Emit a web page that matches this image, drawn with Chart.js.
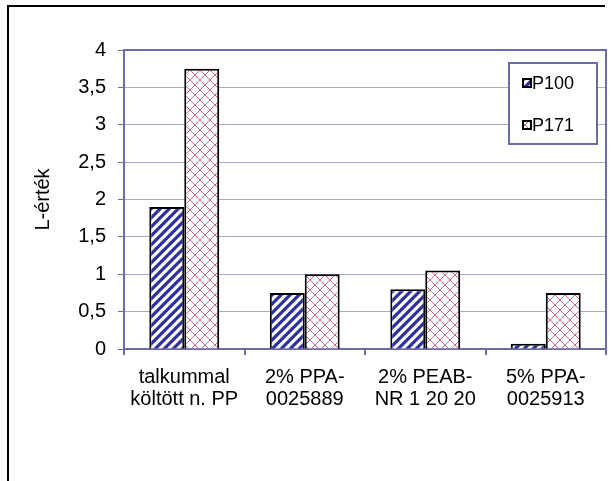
<!DOCTYPE html>
<html>
<head>
<meta charset="utf-8">
<script src="https://cdn.jsdelivr.net/npm/chart.js@4"></script>
<style>
  html, body { margin: 0; padding: 0; background: #fff; }
  #wrap { width: 611px; height: 481px; }
</style>
</head>
<body>
<div id="wrap"><canvas id="c" width="611" height="481"></canvas></div>
<script>
// Categories (two-line labels), series names and values
const categories = [
  ["talkummal", "költött n. PP"],
  ["2% PPA-", "0025889"],
  ["2% PEAB-", "NR 1 20 20"],
  ["5% PPA-", "0025913"]
];
const seriesNames = ["P100", "P171"];
const valuesP100 = [1.9, 0.75, 0.8, 0.07];
const valuesP171 = [3.75, 1.0, 1.05, 0.75];
const yMin = 0, yMax = 4, yStep = 0.5;
const yTitle = "L-érték";

const AXIS = "#6b6ba6";
const GRID = "#a9a9cf";
const FONT = "'Liberation Sans', Arial, sans-serif";

// Diagonal stripe fill ("/") in navy on white
function stripePattern() {
  const s = 9;
  const c = document.createElement("canvas");
  c.width = s; c.height = s;
  const g = c.getContext("2d");
  g.fillStyle = "#fff"; g.fillRect(0, 0, s, s);
  g.strokeStyle = "#2f2fa0"; g.lineWidth = 3.2;
  g.beginPath();
  g.moveTo(-s, s * 2); g.lineTo(s * 2, -s);
  g.moveTo(-s, s); g.lineTo(s, -s);
  g.moveTo(0, s * 2); g.lineTo(s * 2, 0);
  g.stroke();
  return g.createPattern(c, "repeat");
}

// Diagonal crosshatch fill in rose on white
function crossPattern() {
  const s = 10;
  const c = document.createElement("canvas");
  c.width = s; c.height = s;
  const g = c.getContext("2d");
  g.fillStyle = "#fff"; g.fillRect(0, 0, s, s);
  g.strokeStyle = "#c76a92"; g.lineWidth = 1;
  g.beginPath();
  g.moveTo(0, 0); g.lineTo(s, s);
  g.moveTo(s, 0); g.lineTo(0, s);
  g.stroke();
  return g.createPattern(c, "repeat");
}

const fills = [stripePattern(), crossPattern()];

// Outer frame, plot-area border and framed legend
const decorations = {
  id: "decorations",
  afterDraw(chart) {
    const ctx = chart.ctx;
    const a = chart.chartArea;
    ctx.save();
    // outer frame
    ctx.strokeStyle = "#000"; ctx.lineWidth = 2;
    ctx.beginPath();
    ctx.moveTo(8, 481); ctx.lineTo(8, 6); ctx.lineTo(605, 6);
    ctx.stroke();
    // plot area top and right border
    ctx.strokeStyle = AXIS; ctx.lineWidth = 2;
    ctx.beginPath();
    ctx.moveTo(a.left, a.top); ctx.lineTo(a.right, a.top); ctx.lineTo(a.right, a.bottom);
    ctx.stroke();
    // legend
    const bx = a.right - 97, by = a.top + 13, bw = 88, bh = 81;
    ctx.fillStyle = "#fff";
    ctx.fillRect(bx, by, bw, bh);
    ctx.strokeStyle = AXIS; ctx.lineWidth = 2;
    ctx.strokeRect(bx, by, bw, bh);
    chart.data.datasets.forEach((ds, i) => {
      const cy = by + 20 + i * 42;
      const mx = bx + 14;
      ctx.fillStyle = ds.backgroundColor;
      ctx.fillRect(mx, cy - 4, 8, 8);
      ctx.strokeStyle = "#000"; ctx.lineWidth = 2;
      ctx.strokeRect(mx, cy - 4, 8, 8);
      ctx.fillStyle = "#000";
      ctx.font = "18px " + FONT;
      ctx.textBaseline = "middle";
      ctx.textAlign = "left";
      ctx.fillText(ds.label, mx + 9, cy + 1);
    });
    ctx.restore();
  }
};

new Chart(document.getElementById("c"), {
  type: "bar",
  data: {
    labels: categories,
    datasets: [
      { label: seriesNames[0], data: valuesP100, backgroundColor: fills[0] },
      { label: seriesNames[1], data: valuesP171, backgroundColor: fills[1] }
    ].map(d => Object.assign(d, {
      borderColor: "#000",
      borderWidth: 2,
      categoryPercentage: 0.58,
      barPercentage: 1.0
    }))
  },
  options: {
    responsive: false,
    animation: false,
    devicePixelRatio: 1,
    layout: { padding: { top: 50, right: 5, left: 0, bottom: 0 } },
    plugins: { legend: { display: false }, tooltip: { enabled: false } },
    scales: {
      x: {
        grid: { offset: true, drawOnChartArea: false, tickLength: 6, tickColor: AXIS, lineWidth: 2 },
        border: { color: AXIS, width: 2 },
        ticks: { color: "#000", font: { family: FONT, size: 20, lineHeight: 1.1 }, padding: 11, maxRotation: 0, autoSkip: false },
        afterFit(s) { s.height = 132; }
      },
      y: {
        min: yMin, max: yMax,
        grid: { color: GRID, lineWidth: 1, tickLength: 6, tickColor: AXIS },
        border: { color: AXIS, width: 2 },
        ticks: {
          stepSize: yStep,
          color: "#000",
          padding: 12,
          font: { family: FONT, size: 20 },
          callback: v => String(v).replace(".", ",")
        },
        title: { display: true, text: yTitle, color: "#000", font: { family: FONT, size: 20 }, padding: { top: 31, bottom: 0 } },
        afterFit(s) { s.width = 124; }
      }
    }
  },
  plugins: [decorations]
});
</script>
</body>
</html>
